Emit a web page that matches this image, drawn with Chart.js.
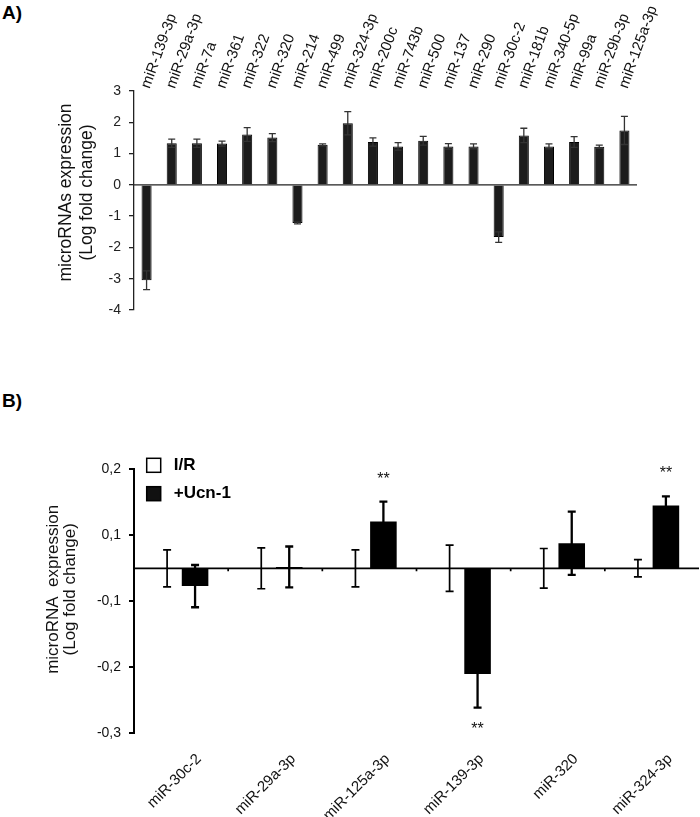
<!DOCTYPE html>
<html>
<head>
<meta charset="utf-8">
<script src="https://cdn.jsdelivr.net/npm/chart.js@4.4.0/dist/chart.umd.min.js"></script>
<style>
  body { margin: 0; background: #fff; }
  #wrap { position: relative; width: 700px; height: 817px; font-family: 'Liberation Sans', Arial, sans-serif; }
  canvas { position: absolute; left: 0; }
  .panel { position: absolute; left: 2px; font-weight: bold; font-size: 19px; line-height: 1; }
</style>
</head>
<body>
<div id="wrap">
  <div class="panel" style="top:2.5px">A)</div>
  <canvas id="chartA" width="700" height="370" style="top:0"></canvas>
  <div class="panel" style="top:391px">B)</div>
  <canvas id="chartB" width="700" height="437" style="top:380px"></canvas>
</div>
<script>
const FONT = "'Liberation Sans', Arial, sans-serif";

// panel A
const categoriesA = ['miR-139-3p', 'miR-29a-3p', 'miR-7a', 'miR-361', 'miR-322', 'miR-320', 'miR-214',
  'miR-499', 'miR-324-3p', 'miR-200c', 'miR-743b', 'miR-500', 'miR-137', 'miR-290', 'miR-30c-2',
  'miR-181b', 'miR-340-5p', 'miR-99a', 'miR-29b-3p', 'miR-125a-3p'];
const valuesA = [-3.05, 1.33, 1.33, 1.32, 1.61, 1.51, -1.22, 1.28, 1.97, 1.37, 1.23, 1.41, 1.23, 1.23,
  -1.67, 1.58, 1.23, 1.37, 1.22, 1.74];
const errorsA = [0.30, 0.13, 0.13, 0.08, 0.22, 0.13, 0.03, 0.03, 0.37, 0.13, 0.12, 0.14, 0.09, 0.08,
  0.17, 0.23, 0.08, 0.17, 0.05, 0.45];

// panel B
const categoriesB = ['miR-30c-2', 'miR-29a-3p', 'miR-125a-3p', 'miR-139-3p', 'miR-320', 'miR-324-3p'];
const irValues = [0, 0, 0, 0, 0, 0];
const irErrors = [0.028, 0.031, 0.028, 0.035, 0.030, 0.013];
const ucnValues = [-0.027, 0.002, 0.071, -0.160, 0.038, 0.095];
const ucnErrors = [0.032, 0.031, 0.030, 0.051, 0.048, 0.014];
const ucnSignif = ['', '', '**', '**', '', '**'];
// axis ticks sit at x.x5 and are shown rounded to one decimal
const yTicksB = [-0.25, -0.15, -0.05, 0.05, 0.15];
const yTickLabelsB = ['-0,3', '-0,2', '-0,1', '0,1', '0,2'];

Chart.defaults.font.family = FONT;
Chart.defaults.color = '#111';
Chart.defaults.animation = false;

// error bars from dataset.errors
const errorBars = {
  id: 'errorBars',
  afterDatasetsDraw(chart) {
    const ctx = chart.ctx, y = chart.scales.y;
    chart.data.datasets.forEach((ds, i) => {
      if (!ds.errors) return;
      ctx.save();
      ctx.strokeStyle = ds.errorColor;
      ctx.lineWidth = ds.errorWidth;
      chart.getDatasetMeta(i).data.forEach((bar, j) => {
        const v = ds.data[j], e = ds.errors[j];
        const top = y.getPixelForValue(v + e), bot = y.getPixelForValue(v - e);
        const c = ds.capWidth / 2;
        ctx.beginPath();
        ctx.moveTo(bar.x, top); ctx.lineTo(bar.x, bot);
        ctx.moveTo(bar.x - c, top); ctx.lineTo(bar.x + c, top);
        ctx.moveTo(bar.x - c, bot); ctx.lineTo(bar.x + c, bot);
        ctx.stroke();
      });
      ctx.restore();
    });
  }
};

// line at y = 0, optional small ticks between categories
const zeroLine = {
  id: 'zeroLine',
  beforeDatasetsDraw(chart, args, o) {
    const {ctx, chartArea} = chart;
    const y0 = chart.scales.y.getPixelForValue(0);
    ctx.save();
    ctx.strokeStyle = o.color;
    ctx.lineWidth = o.width;
    ctx.beginPath();
    ctx.moveTo(chartArea.left, y0); ctx.lineTo(chartArea.right, y0);
    if (o.sepTick) {
      const x = chart.scales.x;
      for (let i = 1; i < chart.data.labels.length; i++) {
        const xs = (x.getPixelForValue(i - 1) + x.getPixelForValue(i)) / 2;
        ctx.moveTo(xs, y0); ctx.lineTo(xs, y0 + o.sepTick);
      }
    }
    ctx.stroke();
    ctx.restore();
  }
};

// two-line rotated y title
const yTitle = {
  id: 'yTitle',
  afterDraw(chart, args, o) {
    const {ctx, chartArea} = chart;
    const cy = (chartArea.top + chartArea.bottom) / 2 + o.dy;
    ctx.save();
    ctx.font = o.font;
    ctx.fillStyle = '#111';
    ctx.textAlign = 'center';
    ctx.textBaseline = 'middle';
    o.lines.forEach((t, i) => {
      ctx.save();
      ctx.translate(o.x[i], cy);
      ctx.rotate(-Math.PI / 2);
      ctx.fillText(t, 0, 0);
      ctx.restore();
    });
    ctx.restore();
  }
};

const sigMarks = {
  id: 'sigMarks',
  afterDatasetsDraw(chart, args, o) {
    const ctx = chart.ctx, y = chart.scales.y;
    ctx.save();
    ctx.font = o.font;
    ctx.fillStyle = '#111';
    ctx.textAlign = 'center';
    chart.data.datasets.forEach((ds, i) => {
      if (!ds.signif) return;
      chart.getDatasetMeta(i).data.forEach((bar, j) => {
        if (!ds.signif[j]) return;
        const v = ds.data[j], e = ds.errors[j];
        const yy = v >= 0 ? y.getPixelForValue(v + e) - o.above : y.getPixelForValue(v - e) + o.below;
        ctx.fillText(ds.signif[j], bar.x, yy);
      });
    });
    ctx.restore();
  }
};

const boxLegend = {
  id: 'boxLegend',
  afterDraw(chart, args, o) {
    const {ctx, chartArea} = chart;
    ctx.save();
    ctx.font = o.font;
    ctx.textBaseline = 'middle';
    chart.data.datasets.forEach((ds, i) => {
      const x = chartArea.left + o.dx, y = chartArea.top + o.dy + i * o.step;
      ctx.fillStyle = ds.legendColor;
      ctx.fillRect(x, y, o.box, o.box);
      ctx.strokeStyle = '#000';
      ctx.lineWidth = 1.5;
      ctx.strokeRect(x, y, o.box, o.box);
      ctx.fillStyle = '#000';
      ctx.fillText(ds.label, x + o.box + o.gap, y + o.box / 2);
    });
    ctx.restore();
  }
};

new Chart(document.getElementById('chartA'), {
  type: 'bar',
  data: {
    labels: categoriesA,
    datasets: [{
      data: valuesA, errors: errorsA,
      backgroundColor: '#1c1c1c', borderColor: '#000', borderWidth: 1,
      barPercentage: 0.4, categoryPercentage: 1,
      errorColor: '#333', errorWidth: 1.3, capWidth: 7
    }]
  },
  options: {
    responsive: false,
    layout: { padding: { left: 0, top: 0, right: 63, bottom: 60 } },
    plugins: {
      legend: { display: false },
      tooltip: { enabled: false },
      zeroLine: { color: '#222', width: 1.3 },
      yTitle: { lines: ['microRNAs expression', '(Log fold change)'], x: [66.5, 87.5], dy: -8, font: '17.5px ' + FONT }
    },
    scales: {
      x: {
        position: 'top',
        grid: { display: false, drawTicks: false },
        border: { display: false },
        ticks: { autoSkip: false, minRotation: 70, maxRotation: 70, padding: 0, labelOffset: 16, font: { size: 15 }, color: '#111' },
        afterFit: s => { s.height = 91; s.paddingLeft = 0; s.paddingRight = 0; }
      },
      y: {
        min: -4, max: 3,
        ticks: { stepSize: 1, padding: 8, font: { size: 14 }, color: '#222' },
        grid: { drawOnChartArea: false, tickLength: 5, color: '#222', lineWidth: 1.3 },
        border: { color: '#222', width: 1.3 },
        afterFit: s => { s.width = 134; }
      }
    }
  },
  plugins: [zeroLine, errorBars, yTitle]
});

new Chart(document.getElementById('chartB'), {
  type: 'bar',
  data: {
    labels: categoriesB,
    datasets: [{
      label: 'I/R', data: irValues, errors: irErrors,
      backgroundColor: '#fff', borderWidth: 0, legendColor: '#fff',
      errorColor: '#000', errorWidth: 1.7, capWidth: 8
    }, {
      label: '+Ucn-1', data: ucnValues, errors: ucnErrors, signif: ucnSignif,
      backgroundColor: '#000', borderWidth: 0, legendColor: '#111',
      errorColor: '#000', errorWidth: 2.3, capWidth: 8
    }]
  },
  options: {
    responsive: false,
    categoryPercentage: 0.594,
    barPercentage: 0.95,
    layout: { padding: { left: 0, top: 89.3, right: 1, bottom: 0 } },
    plugins: {
      legend: { display: false },
      tooltip: { enabled: false },
      zeroLine: { color: '#000', width: 1.7, sepTick: 3 },
      yTitle: { lines: ['microRNA  expression', '(Log fold change)'], x: [53.5, 70], dy: -12, font: '17px ' + FONT },
      sigMarks: { font: '16px ' + FONT, above: 18, below: 26 },
      boxLegend: { font: 'bold 17px ' + FONT, dx: 12.7, dy: -11, step: 28.4, box: 14, gap: 13 }
    },
    scales: {
      x: {
        grid: { display: false, drawTicks: false },
        border: { display: false },
        ticks: { autoSkip: false, minRotation: 45, maxRotation: 45, padding: 17, labelOffset: 18, font: { size: 15 }, color: '#111' },
        afterFit: s => { s.height = 83.7; }
      },
      y: {
        min: -0.25, max: 0.15,
        afterBuildTicks: s => { s.ticks = yTicksB.map(v => ({ value: v })); },
        ticks: { callback: (v, i) => yTickLabelsB[i], padding: 8, font: { size: 14 }, color: '#111' },
        grid: { drawOnChartArea: false, tickLength: 5, color: '#000', lineWidth: 2 },
        border: { color: '#000', width: 2 },
        afterFit: s => { s.width = 134; }
      }
    }
  },
  plugins: [zeroLine, errorBars, sigMarks, yTitle, boxLegend]
});
</script>
</body>
</html>
